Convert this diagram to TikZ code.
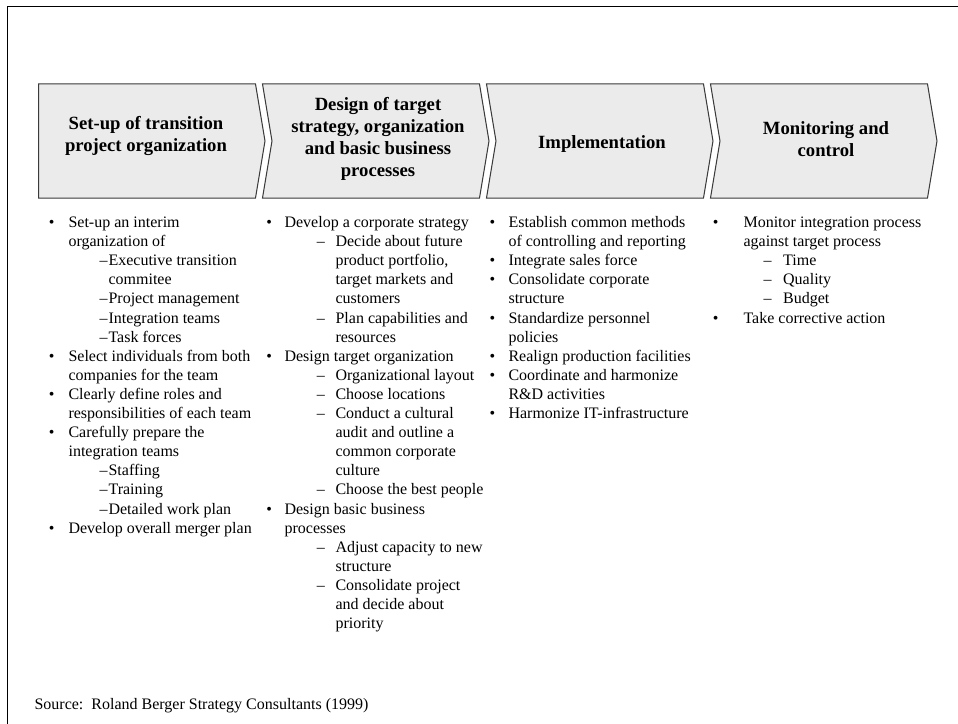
\documentclass[tikz,border=0pt]{standalone}
\usepackage{fontspec}
\setmainfont{Liberation Serif}
\definecolor{chevfill}{HTML}{EBEBEB}
\definecolor{chevline}{HTML}{3A3A3A}
% one drawing unit = one pixel of the page
\newdimen\pxu \pxu=0.75pt
% list lines: bullet line, continuation line, dash line
\newcommand\bl[2]{\makebox[#1\pxu][l]{\textbullet}#2}
\newcommand\cont[2]{\hspace*{#1\pxu}#2}
\newcommand\sub[3]{\hspace*{#1\pxu}\makebox[#2\pxu][l]{--}#3}
\newcommand\bodyfont{\fontsize{12pt}{14.33pt}\selectfont}
\newcommand\headfont{\fontsize{14pt}{16.5pt}\selectfont\bfseries}
\tikzset{
  chevron/.style={fill=chevfill, draw=chevline, line width=0.75pt, line join=miter},
  frameline/.style={draw=black, line width=1.4pt},
  headtext/.style={anchor=base, inner sep=0pt},
  listtext/.style={anchor=base west, inner sep=0pt}
}
\begin{document}
\begin{tikzpicture}[x=0.75pt, y=-0.75pt]
\useasboundingbox (0,0) rectangle (958,724);
\fill[white] (0,0) rectangle (958,724);
% outer frame (open to the right and bottom)
\draw[frameline] (7.5,724) -- (7.5,6.5) -- (958,6.5);
% process chevrons
\draw[chevron] (38.5,84) -- (255.5,84) -- (265,141) -- (255.5,198) -- (38.5,198) -- cycle;
\foreach \L in {262.5,486.5,710.5}{
  \draw[chevron] (\L,84) -- ({\L+217},84) -- ({\L+226.5},141) -- ({\L+217},198)
    -- (\L,198) -- ({\L+9.5},141) -- cycle;
}
% phase titles
\node[headtext] (h1) at (146,130) {\parbox[t]{220\pxu}{\centering\headfont
  Set-up of transition\\ project organization}};
\node[headtext] (h2) at (378,111) {\parbox[t]{220\pxu}{\centering\headfont
  Design of target\\ strategy, organization\\ and basic business\\ processes}};
\node[headtext] (h3) at (602,148.3) {\parbox[t]{220\pxu}{\centering\headfont
  Implementation}};
\node[headtext] (h4) at (826,135) {\parbox[t]{220\pxu}{\centering\headfont
  Monitoring and\\ control}};
% activity lists
\node[listtext] (c1) at (48.7,227.5) {\parbox[t]{240\pxu}{\bodyfont
\bl{19.6}{Set-up an interim}\\
\cont{19.6}{organization of}\\
\sub{50.6}{9}{Executive transition}\\
\cont{59.6}{commitee}\\
\sub{50.6}{9}{Project management}\\
\sub{50.6}{9}{Integration teams}\\
\sub{50.6}{9}{Task forces}\\
\bl{19.6}{Select individuals from both}\\
\cont{19.6}{companies for the team}\\
\bl{19.6}{Clearly define roles and}\\
\cont{19.6}{responsibilities of each team}\\
\bl{19.6}{Carefully prepare the}\\
\cont{19.6}{integration teams}\\
\sub{50.6}{9}{Staffing}\\
\sub{50.6}{9}{Training}\\
\sub{50.6}{9}{Detailed work plan}\\
\bl{19.6}{Develop overall merger plan}}};
\node[listtext] (c2) at (266,227.5) {\parbox[t]{240\pxu}{\bodyfont
\bl{18.3}{Develop a corporate strategy}\\
\sub{50.7}{18.6}{Decide about future}\\
\cont{69.3}{product portfolio,}\\
\cont{69.3}{target markets and}\\
\cont{69.3}{customers}\\
\sub{50.7}{18.6}{Plan capabilities and}\\
\cont{69.3}{resources}\\
\bl{18.3}{Design target organization}\\
\sub{50.7}{18.6}{Organizational layout}\\
\sub{50.7}{18.6}{Choose locations}\\
\sub{50.7}{18.6}{Conduct a cultural}\\
\cont{69.3}{audit and outline a}\\
\cont{69.3}{common corporate}\\
\cont{69.3}{culture}\\
\sub{50.7}{18.6}{Choose the best people}\\
\bl{18.3}{Design basic business}\\
\cont{18.3}{processes}\\
\sub{50.7}{18.6}{Adjust capacity to new}\\
\cont{69.3}{structure}\\
\sub{50.7}{18.6}{Consolidate project}\\
\cont{69.3}{and decide about}\\
\cont{69.3}{priority}}};
\node[listtext] (c3) at (489.3,227.5) {\parbox[t]{240\pxu}{\bodyfont
\bl{19}{Establish common methods}\\
\cont{19}{of controlling and reporting}\\
\bl{19}{Integrate sales force}\\
\bl{19}{Consolidate corporate}\\
\cont{19}{structure}\\
\bl{19}{Standardize personnel}\\
\cont{19}{policies}\\
\bl{19}{Realign production facilities}\\
\bl{19}{Coordinate and harmonize}\\
\cont{19}{R\&D activities}\\
\bl{19}{Harmonize IT-infrastructure}}};
\node[listtext] (c4) at (712.7,227.5) {\parbox[t]{240\pxu}{\bodyfont
\bl{30.6}{Monitor integration process}\\
\cont{30.6}{against target process}\\
\sub{50.6}{19.6}{Time}\\
\sub{50.6}{19.6}{Quality}\\
\sub{50.6}{19.6}{Budget}\\
\bl{30.6}{Take corrective action}}};
% source line
\node[listtext] (src) at (34.3,709) {\bodyfont Source:\ \ Roland Berger Strategy Consultants (1999)};
\end{tikzpicture}
\end{document}
